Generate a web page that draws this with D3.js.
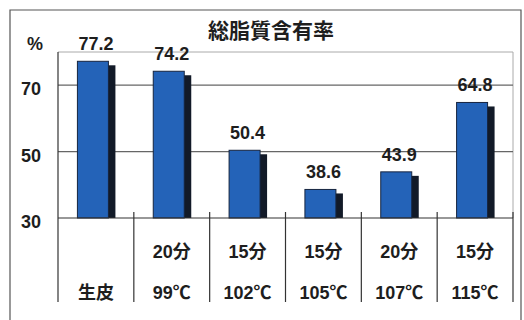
<!DOCTYPE html>
<html>
<head>
<meta charset="utf-8">
<script src="https://cdn.jsdelivr.net/npm/d3@7"></script>
<style>
  body { margin: 0; background: #fff; }
  text { font-family: "Liberation Sans", "Noto Sans CJK JP", sans-serif; font-weight: bold; fill: #1e1e1e; }
</style>
</head>
<body>
<div id="chart"></div>
<script>
// data
var categories = ["生皮", "99℃", "102℃", "105℃", "107℃", "115℃"];
var timeLabels = ["", "20分", "15分", "15分", "20分", "15分"];
var values = [77.2, 74.2, 50.4, 38.6, 43.9, 64.8];
var yTicks = [30, 50, 70];

var W = 524, H = 320;
var margin = { top: 52, right: 11, bottom: 102, left: 58 };
var width = W - margin.left - margin.right,
    height = H - margin.top - margin.bottom;

var svg = d3.select("#chart").append("svg")
    .attr("width", W).attr("height", H);

// outer frame
svg.append("path")
    .attr("d", "M10,320 V10 H521 V320")
    .attr("fill", "none").attr("stroke", "#555").attr("stroke-width", 1.2);

var g = svg.append("g")
    .attr("transform", "translate(" + margin.left + "," + margin.top + ")");

var x = d3.scaleBand().domain(d3.range(categories.length)).range([0, width]);
var y = d3.scaleLinear().domain([30, 80]).range([height, 0]);

// plot frame (top and right)
g.append("path")
    .attr("d", "M0,0 H" + width + " V" + height)
    .attr("fill", "none").attr("stroke", "#aaa").attr("stroke-width", 1);

// gridlines
g.selectAll(".grid").data(yTicks.slice(1)).enter().append("line")
    .attr("x1", 0).attr("x2", width)
    .attr("y1", function (d) { return y(d); }).attr("y2", function (d) { return y(d); })
    .attr("stroke", "#666").attr("stroke-width", 1.2);

// y axis labels
svg.selectAll(".ytick").data(yTicks).enter().append("text")
    .attr("x", 31).attr("y", function (d) { return margin.top + y(d) + 10; })
    .attr("text-anchor", "middle").attr("font-size", 18)
    .text(function (d) { return d; });

svg.append("text").attr("x", 35).attr("y", 50)
    .attr("text-anchor", "middle").attr("font-size", 18).text("%");

// title
svg.append("text").attr("x", 271).attr("y", 38)
    .attr("text-anchor", "middle").attr("font-size", 21)
    .style("font-family", "'Noto Sans CJK JP'")
    .text("総脂質含有率");

var barW = 31, shX = 7, shY = 4;
var bars = g.selectAll(".bar").data(values).enter().append("g");

// shadow
bars.append("rect")
    .attr("x", function (d, i) { return x(i) + (x.bandwidth() - barW) / 2 - 3 + shX; })
    .attr("y", function (d) { return y(d) + shY; })
    .attr("width", barW)
    .attr("height", function (d) { return height - y(d) - shY; })
    .attr("fill", "#121a28");

// front bar
bars.append("rect")
    .attr("x", function (d, i) { return x(i) + (x.bandwidth() - barW) / 2 - 3; })
    .attr("y", function (d) { return y(d); })
    .attr("width", barW)
    .attr("height", function (d) { return height - y(d); })
    .attr("fill", "#2463b8").attr("stroke", "#16243f").attr("stroke-width", 1);

// value labels
bars.append("text")
    .attr("x", function (d, i) { return x(i) + x.bandwidth() / 2; })
    .attr("y", function (d) { return y(d) - 11; })
    .attr("text-anchor", "middle").attr("font-size", 18)
    .text(function (d) { return d3.format(".1f")(d); });

// x axis line
g.append("line").attr("x1", 0).attr("x2", width)
    .attr("y1", height).attr("y2", height)
    .attr("stroke", "#333").attr("stroke-width", 1.2);

// category separators
g.selectAll(".sep").data(d3.range(categories.length + 1)).enter().append("line")
    .attr("x1", function (i) { return i < categories.length ? x(i) : width; })
    .attr("x2", function (i) { return i < categories.length ? x(i) : width; })
    .attr("y1", function (i) { return i === 0 ? 0 : height - 6; })
    .attr("y2", height + 84)
    .attr("stroke", "#333").attr("stroke-width", 1.2);

// category labels
g.selectAll(".tl").data(timeLabels).enter().append("text")
    .attr("x", function (d, i) { return x(i) + x.bandwidth() / 2; })
    .attr("y", height + 40)
    .attr("text-anchor", "middle").attr("font-size", 18)
    .text(function (d) { return d; });

g.selectAll(".cl").data(categories).enter().append("text")
    .attr("x", function (d, i) { return x(i) + x.bandwidth() / 2; })
    .attr("y", height + 81)
    .attr("text-anchor", "middle").attr("font-size", 18)
    .text(function (d) { return d; });
</script>
</body>
</html>
